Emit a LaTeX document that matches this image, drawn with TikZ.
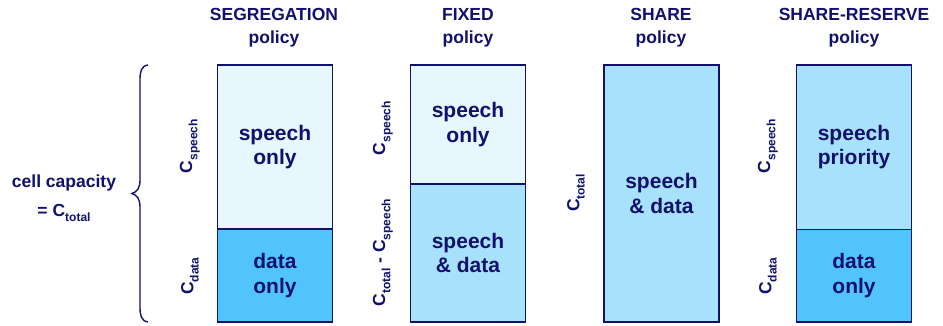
\documentclass[tikz,border=0pt]{standalone}
\usepackage{fontspec}
\setmainfont{Liberation Sans}
\definecolor{navy}{RGB}{16,16,110}
\definecolor{paleblue}{RGB}{232,246,253}
\definecolor{midblue}{RGB}{168,225,251}
\definecolor{deepblue}{RGB}{82,196,252}
% lowered, smaller text used for the capacity subscripts
\newcommand\lowtxt[1]{\raisebox{-0.3em}{\fontsize{12}{12}\selectfont #1}}

\begin{document}
\begin{tikzpicture}[x=1pt,y=-1pt,
  every node/.style={text=navy, inner sep=0pt},
  policytitle/.style={font=\fontsize{17.5}{23}\selectfont\bfseries, align=center},
  region/.style={draw=navy, line width=1.8pt, minimum width=115pt,
    font=\fontsize{21}{24.5}\selectfont\bfseries, align=center},
  capacity/.style={rotate=90, font=\fontsize{17.5}{20}\selectfont\bfseries},
  sidetext/.style={font=\fontsize{17.5}{20}\selectfont\bfseries}]
\useasboundingbox (0,0) rectangle (943,325);

% policy titles
\node[policytitle] (tseg)   at (274,28) {SEGREGATION\\policy};
\node[policytitle] (tfix)   at (468,28) {FIXED\\policy};
\node[policytitle] (tshare) at (661,28) {SHARE\\policy};
\node[policytitle] (tres)   at (854,28) {SHARE-RESERVE\\policy};

% total cell capacity and its brace
\node[sidetext] (cell)  at (64,183) {cell capacity};
\node[sidetext] (total) at (64,213) {= C\lowtxt{total}};
\draw[navy, line width=1.4pt]
  (148,65) .. controls (141,66) and (140,72) .. (140,80) -- (140,180)
  .. controls (140,188) and (137,192) .. (132,193.5)
  .. controls (137,195) and (140,199) .. (140,207) -- (140,307)
  .. controls (140,315) and (141,321) .. (148,322);

% SEGREGATION
\node[region, fill=paleblue, minimum height=164pt] (segspeech) at (275,147) {speech\\only};
\node[region, fill=deepblue, minimum height=93pt] (segdata) at (275,275.5) {data\\only};
\node[capacity] (segcs) at (190,146) {C\lowtxt{speech}};
\node[capacity] (segcd) at (190,276) {C\lowtxt{data}};

% FIXED
\node[region, fill=paleblue, minimum height=119pt] (fixspeech) at (468,124.5) {speech\\only};
\node[region, fill=midblue, minimum height=138pt] (fixshared) at (468,253) {speech\\\& data};
\node[capacity] (fixcs) at (383,128) {C\lowtxt{speech}};
\node[capacity] (fixcr) at (383,252.5) {C\lowtxt{total} - C\lowtxt{speech}};

% SHARE
\node[region, fill=midblue, minimum height=257pt] (shareall) at (661.5,193.5) {speech\\\& data};
\node[capacity] (sharect) at (576,193) {C\lowtxt{total}};

% SHARE-RESERVE
\node[region, fill=midblue, minimum height=164.5pt] (resspeech) at (854,147.25) {speech\\priority};
\node[region, fill=deepblue, minimum height=92.5pt] (resdata) at (854,275.75) {data\\only};
\node[capacity] (rescs) at (768,146) {C\lowtxt{speech}};
\node[capacity] (rescd) at (768,276) {C\lowtxt{data}};
\end{tikzpicture}
\end{document}
